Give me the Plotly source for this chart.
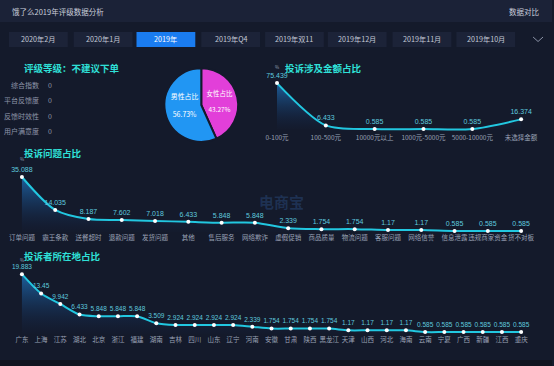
import plotly.graph_objects as go

W, H = 554, 366
BG = "#141a2b"
BAR = "#1b2237"
BTN = "#1c2338"
SEL = "#1a7cf0"
CYAN = "#22c7e0"
TITLE = "#2fe0d8"
GRAY = "#9aa1b5"
FONT = "Noto Sans CJK SC"

# ---------------- data ----------------
periods = ["2020年2月", "2020年1月", "2019年", "2019年Q4", "2019年双11",
           "2019年12月", "2019年11月", "2019年10月"]
selected_period = "2019年"

rating_items = ["综合指数", "平台反馈度", "反馈时效性", "用户满意度"]
rating_values = [0, 0, 0, 0]

gender_labels = ["女性占比", "男性占比"]
gender_values = [43.27, 56.73]

amount_cats = ["0-100元", "100-500元", "10000元以上", "1000元-5000元",
               "5000-10000元", "未选择金额"]
amount_vals = [75.439, 6.433, 0.585, 0.585, 0.585, 16.374]

issue_cats = ["订单问题", "霸王条款", "送餐超时", "退款问题", "发货问题", "其他",
              "售后服务", "网络欺诈", "虚假促销", "商品质量", "物流问题", "客服问题",
              "网络信誉", "信息泄露", "违规商家资金", "货不对板"]
issue_vals = [35.088, 14.035, 8.187, 7.602, 7.018, 6.433, 5.848, 5.848,
              2.339, 1.754, 1.754, 1.17, 1.17, 0.585, 0.585, 0.585]

region_cats = ["广东", "上海", "江苏", "湖北", "北京", "浙江", "福建", "湖南", "吉林",
               "四川", "山东", "辽宁", "河南", "安徽", "甘肃", "陕西", "黑龙江", "天津",
               "山西", "河北", "海南", "云南", "宁夏", "广西", "新疆", "江西", "重庆"]
region_vals = [19.883, 13.45, 9.942, 6.433, 5.848, 5.848, 5.848, 3.509, 2.924,
               2.924, 2.924, 2.924, 2.339, 1.754, 1.754, 1.754, 1.754, 1.17,
               1.17, 1.17, 1.17, 0.585, 0.585, 0.585, 0.585, 0.585, 0.585]


def X(px):
    return px / W


def Y(py):
    return 1 - py / H


fig = go.Figure()

# ---------------- line charts ----------------
def add_line(cats, vals, xa, ya, fs):
    fig.add_trace(go.Scatter(
        x=cats, y=vals, xaxis=xa, yaxis=ya,
        mode="lines+markers+text",
        line=dict(color=CYAN, width=2, shape="spline", smoothing=0.8),
        marker=dict(color="white", size=4),
        text=[f"{v:g}" for v in vals],
        textposition="top center",
        textfont=dict(size=fs, color="#5fc9df", family="Liberation Sans"),
        fill="tozeroy",
        fillgradient=dict(type="vertical",
                          colorscale=[[0, "rgba(20,40,80,0.05)"],
                                      [1, "rgba(30,110,180,0.85)"]]),
        cliponaxis=False,
        hoverinfo="skip",
        showlegend=False,
    ))


add_line(amount_cats, amount_vals, "x", "y", 7)
add_line(issue_cats, issue_vals, "x2", "y2", 7)
add_line(region_cats, region_vals, "x3", "y3", 6.5)


def xax(first_px, spacing, n, pad, fs):
    r0, r1 = -pad, n - 1 + pad
    d0 = first_px - pad * spacing
    d1 = first_px + (n - 1 + pad) * spacing
    return dict(type="category", range=[r0, r1], domain=[X(d0), X(d1)],
                showgrid=False, zeroline=False, showline=False, ticks="",
                tickangle=0,
                tickfont=dict(size=fs, color=GRAY, family=FONT),
                fixedrange=True)


def yax(zero_px, slope, top_px, bottom_px):
    top_v = (zero_px - top_px) / slope
    bot_v = (zero_px - bottom_px) / slope
    return dict(range=[bot_v, top_v], domain=[Y(bottom_px), Y(top_px)],
                visible=False, fixedrange=True)


layout_axes = dict(
    xaxis=dict(**xax(278, 49, 6, 0.3, 6.5), anchor="y"),
    yaxis=dict(**yax(129.4, 0.614, 70, 132.5), anchor="x"),
    xaxis2=dict(**xax(22, 33.4, 16, 0.5, 6.5), anchor="y2"),
    yaxis2=dict(**yax(231.9, 1.565, 160, 232.6), anchor="x2"),
    xaxis3=dict(**xax(22, 19.27, 27, 0.5, 6.5), anchor="y3"),
    yaxis3=dict(**yax(333.8, 3.0, 262, 334.5), anchor="x3"),
)

# ---------------- pie ----------------
fig.add_trace(go.Pie(
    labels=gender_labels, values=gender_values,
    sort=False, direction="clockwise", rotation=0,
    marker=dict(colors=["#e23fd9", "#2196f3"], line=dict(color=BG, width=2)),
    texttemplate="%{label}<br><br>%{value:.2f}%",
    textposition="inside", insidetextorientation="horizontal",
    textfont=dict(size=8, color="white", family=FONT),
    domain=dict(x=[X(165), X(239)], y=[Y(142), Y(68)]),
    hoverinfo="skip", showlegend=False,
))

shapes = []
annotations = []


def ann(text, x, y, xanchor="left", size=7.5, color="#c9cedb", **kw):
    annotations.append(dict(text=text, x=X(x), y=Y(y), xref="paper", yref="paper",
                            xanchor=xanchor, yanchor="middle", showarrow=False,
                            font=dict(size=size, color=color, family=FONT), **kw))


# top bar
shapes.append(dict(type="rect", xref="paper", yref="paper",
                   x0=0, x1=1, y0=Y(22), y1=1, fillcolor=BAR, line_width=0, layer="below"))
shapes.append(dict(type="rect", xref="paper", yref="paper",
                   x0=0, x1=1, y0=0, y1=Y(360), fillcolor="#10141f", line_width=0, layer="below"))
ann("饿了么2019年评级数据分析", 10, 11)
ann("数据对比", 544, 11, xanchor="right")

# period buttons
btn_x0 = [9, 74, 137, 202, 266, 329, 394, 458]
for bx, p in zip(btn_x0, periods):
    sel = p == selected_period
    shapes.append(dict(type="rect", xref="paper", yref="paper",
                       x0=X(bx), x1=X(bx + 59), y0=Y(47), y1=Y(32),
                       fillcolor=SEL if sel else BTN, line_width=0, layer="below"))
    ann(p, bx + 29.5, 39.5, xanchor="center", size=7.2,
        color="white" if sel else "#c3c9d6")
# chevron
shapes.append(dict(type="path", xref="paper", yref="paper",
                   path=f"M {X(535)} {Y(37)} L {X(540)} {Y(41.5)} L {X(545)} {Y(37)}",
                   line=dict(color="#8a92a6", width=1)))

# section titles
for txt, x, y in [("评级等级：不建议下单", 22, 68), ("投诉涉及金额占比", 284, 68),
                  ("投诉问题占比", 22, 153), ("投诉者所在地占比", 22, 256)]:
    ann(f"<b>{txt}</b>", x, y, size=9.5, color=TITLE)

# unit labels
for x, y in [(278, 66.5), (22, 159), (22, 259.5)]:
    ann("%", x, y, xanchor="center", size=4.5, color=GRAY)

# rating list
for i, (item, val) in enumerate(zip(rating_items, rating_values)):
    yy = 85 + i * 15.3
    ann(item, 41, yy, xanchor="right", size=7, color="#8f96aa")
    ann(str(val), 46, yy, size=7, color="#8f96aa")

# watermark
ann("<b>电商宝</b>", 283, 201, xanchor="center", size=15, color="rgba(60,120,200,0.25)")

fig.update_layout(
    width=W, height=H,
    margin=dict(l=0, r=0, t=0, b=0),
    paper_bgcolor=BG, plot_bgcolor="rgba(0,0,0,0)",
    font=dict(family=FONT),
    shapes=shapes, annotations=annotations,
    **layout_axes,
)

fig.write_html("out.html", config={"displayModeBar": False},
               post_script="document.body.style.margin='0';document.body.style.overflow='hidden';")
